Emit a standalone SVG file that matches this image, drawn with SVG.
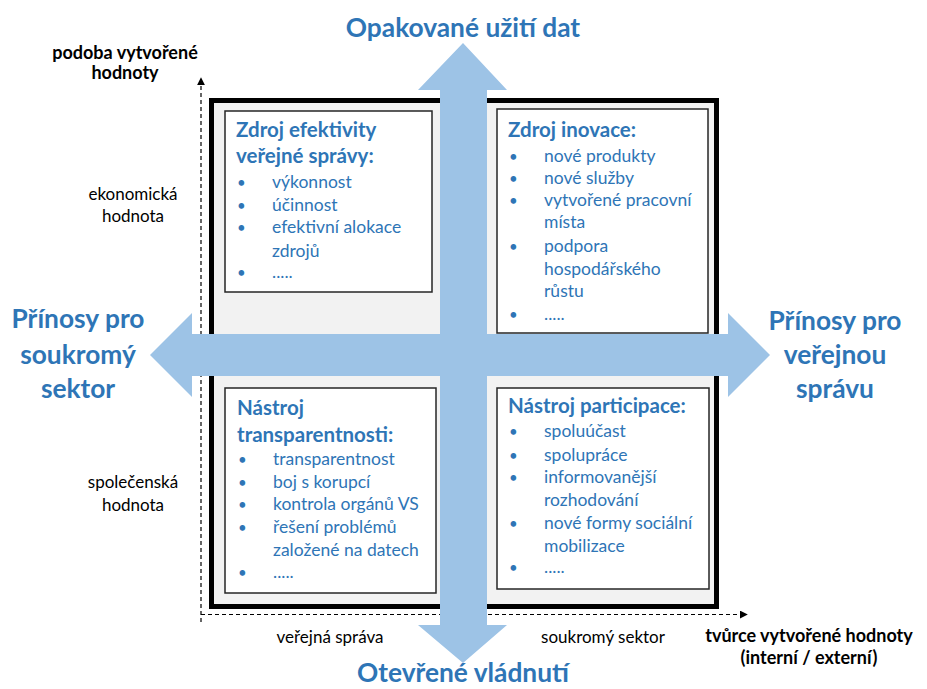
<svg xmlns="http://www.w3.org/2000/svg" width="927" height="689" viewBox="0 0 927 689">
<style>
.big{font-family:Lato,"Liberation Sans",sans-serif;font-weight:bold;font-size:26.3px;fill:#2e75b6;text-anchor:middle}
.ax{font-family:Lato,"Liberation Sans",sans-serif;font-size:17px;fill:#000;text-anchor:middle}
.axb{font-family:Lato,"Liberation Sans",sans-serif;font-size:18px;font-weight:bold;fill:#000;text-anchor:middle}
.tt{font-family:Lato,"Liberation Sans",sans-serif;font-size:20.5px;font-weight:bold;fill:#2e75b6}
.it{font-family:Lato,"Liberation Sans",sans-serif;font-size:17.5px;fill:#2e75b6}
.bu{font-family:Lato,"Liberation Sans",sans-serif;font-size:15px;fill:#2e75b6}
.box{fill:#fff;stroke:#262626;stroke-width:1.5}
.dash{stroke:#000;stroke-width:1.2;stroke-dasharray:4 3;fill:none}
</style>
<defs>
<marker id="ah" viewBox="0 0 10 10" refX="9" refY="5" markerWidth="8" markerHeight="8" markerUnits="userSpaceOnUse" orient="auto"><path d="M0,0 L10,5 L0,10 Z" fill="#000"/></marker>
</defs>
<rect width="927" height="689" fill="#fff"/>

<g id="axes">
<line class="dash" x1="201" y1="622" x2="201" y2="78" marker-end="url(#ah)"/>
<line class="dash" x1="201" y1="614.5" x2="747" y2="614.5" marker-end="url(#ah)"/>
</g>

<g id="frame">
<rect x="211.5" y="100.5" width="505" height="506" fill="#f2f2f2" stroke="#000" stroke-width="5"/>
</g>

<g id="box-tl">
<rect class="box" x="225" y="111" width="207" height="181"/>
<text class="tt" x="236" y="137">Zdroj efektivity</text>
<text class="tt" x="236" y="163">veřejné správy:</text>
<text class="bu" x="237" y="188">•</text><text class="it" x="272" y="188">výkonnost</text>
<text class="bu" x="237" y="211">•</text><text class="it" x="272" y="211">účinnost</text>
<text class="bu" x="237" y="233">•</text><text class="it" x="272" y="233">efektivní alokace</text>
<text class="it" x="272" y="257">zdrojů</text>
<text class="bu" x="237" y="278">•</text><text class="it" x="272" y="278">.....</text>
</g>

<g id="box-tr">
<rect class="box" x="497" y="109" width="211" height="224"/>
<text class="tt" x="508" y="137">Zdroj inovace:</text>
<text class="bu" x="509" y="162">•</text><text class="it" x="544" y="162">nové produkty</text>
<text class="bu" x="509" y="184">•</text><text class="it" x="544" y="184">nové služby</text>
<text class="bu" x="509" y="206">•</text><text class="it" x="544" y="206">vytvořené pracovní</text>
<text class="it" x="544" y="228">místa</text>
<text class="bu" x="509" y="252">•</text><text class="it" x="544" y="252">podpora</text>
<text class="it" x="544" y="275">hospodářského</text>
<text class="it" x="544" y="297">růstu</text>
<text class="bu" x="509" y="320">•</text><text class="it" x="544" y="320">.....</text>
</g>

<g id="box-bl">
<rect class="box" x="225" y="388" width="211" height="205"/>
<text class="tt" x="237" y="415">Nástroj</text>
<text class="tt" x="237" y="442">transparentnosti:</text>
<text class="bu" x="238" y="465">•</text><text class="it" x="273" y="465">transparentnost</text>
<text class="bu" x="238" y="488">•</text><text class="it" x="273" y="488">boj s korupcí</text>
<text class="bu" x="238" y="510">•</text><text class="it" x="273" y="510">kontrola orgánů VS</text>
<text class="bu" x="238" y="533">•</text><text class="it" x="273" y="533">řešení problémů</text>
<text class="it" x="273" y="556">založené na datech</text>
<text class="bu" x="238" y="578">•</text><text class="it" x="273" y="578">.....</text>
</g>

<g id="box-br">
<rect class="box" x="497" y="388" width="212" height="201"/>
<text class="tt" x="508" y="413">Nástroj participace:</text>
<text class="bu" x="509" y="437">•</text><text class="it" x="544" y="437">spoluúčast</text>
<text class="bu" x="509" y="461">•</text><text class="it" x="544" y="461">spolupráce</text>
<text class="bu" x="509" y="483">•</text><text class="it" x="544" y="483">informovanější</text>
<text class="it" x="544" y="506">rozhodování</text>
<text class="bu" x="509" y="529">•</text><text class="it" x="544" y="529">nové formy sociální</text>
<text class="it" x="544" y="552">mobilizace</text>
<text class="bu" x="509" y="573">•</text><text class="it" x="544" y="573">.....</text>
</g>

<g id="connectors">
<polygon fill="#9dc3e6" points="463,43 507,90 487,90 487,334 728,334 728,313 770,355 728,397 728,376 487,376 487,625 507,625 463,663 418,625 440,625 440,376 192,376 192,397 150,355 192,313 192,334 440,334 440,90 418,90"/>
</g>

<g id="labels">
<text class="big" x="463" y="37">Opakované užití dat</text>
<text class="big" x="463" y="682">Otevřené vládnutí</text>
<text class="big" x="78" y="328">Přínosy pro</text>
<text class="big" x="78" y="364">soukromý</text>
<text class="big" x="78" y="398">sektor</text>
<text class="big" x="835" y="330">Přínosy pro</text>
<text class="big" x="835" y="364">veřejnou</text>
<text class="big" x="835" y="398">správu</text>
<text class="axb" x="125" y="59">podoba vytvořené</text>
<text class="axb" x="125" y="79">hodnoty</text>
<text class="ax" x="133" y="200">ekonomická</text>
<text class="ax" x="133" y="222">hodnota</text>
<text class="ax" x="133" y="488">společenská</text>
<text class="ax" x="133" y="511">hodnota</text>
<text class="ax" x="330" y="643">veřejná správa</text>
<text class="ax" x="603" y="643">soukromý sektor</text>
<text class="axb" x="809" y="642">tvůrce vytvořené hodnoty</text>
<text class="axb" x="809" y="664">(interní / externí)</text>
</g>
</svg>
